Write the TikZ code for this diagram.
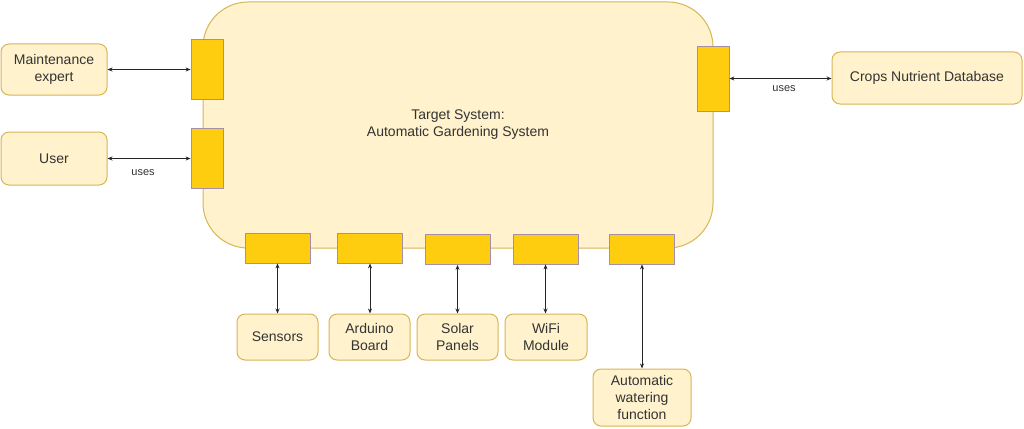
\documentclass[tikz,border=0pt]{standalone}
\usepackage{fontspec}
\setmainfont{Liberation Sans}
\usetikzlibrary{arrows.meta}
\definecolor{boxfill}{HTML}{FFF2CC}
\definecolor{boxline}{HTML}{D6B656}
\definecolor{portfill}{HTML}{FFCD0F}
\definecolor{portline}{HTML}{A88FA8}
\definecolor{txt}{HTML}{333333}
\begin{document}
\begin{tikzpicture}[x=1pt,y=-1pt,
  box/.style={draw=boxline,fill=boxfill,line width=1pt,rounded corners=8pt,align=center,text=txt,
    font=\fontsize{14}{17}\selectfont,inner sep=0pt},
  port/.style={draw=portline,fill=portfill,line width=0.8pt,inner sep=0pt},
  conn/.style={draw=black!85,line width=0.9pt,{Stealth[length=5pt,width=4pt]}-{Stealth[length=5pt,width=4pt]}},
  lbl/.style={font=\fontsize{11}{13}\selectfont,text=txt,inner sep=0pt}]
\useasboundingbox (0,0) rectangle (1024,428);
\node[box,rounded corners=45pt,minimum width=510pt,minimum height=246pt] (main) at (458,125) {Target System:\\Automatic Gardening System};
% ports
\node[port,minimum width=32pt,minimum height=60pt] (p1) at (207,69) {};
\node[port,minimum width=32pt,minimum height=60pt] (p2) at (207,158) {};
\node[port,minimum width=32pt,minimum height=65pt] (pr) at (713,78.5) {};
\node[port,minimum width=65pt,minimum height=30pt] (b1) at (277.5,248) {};
\node[port,minimum width=65pt,minimum height=30pt] (b2) at (370,248) {};
\node[port,minimum width=65pt,minimum height=30pt] (b3) at (457.5,249.5) {};
\node[port,minimum width=65pt,minimum height=30pt] (b4) at (545.5,249) {};
\node[port,minimum width=65pt,minimum height=30pt] (b5) at (642,249) {};
% external boxes
\node[box,minimum width=106pt,minimum height=51pt] (me) at (54,69.5) {Maintenance\\expert};
\node[box,minimum width=106pt,minimum height=53pt] (user) at (54,158.5) {User};
\node[box,minimum width=190pt,minimum height=52pt] (crops) at (927,78) {Crops Nutrient Database};
\node[box,minimum width=81pt,minimum height=46pt] (sens) at (277.5,337) {Sensors};
\node[box,minimum width=81pt,minimum height=46pt] (ard) at (369.5,337) {Arduino\\Board};
\node[box,minimum width=81pt,minimum height=46pt] (sol) at (457.5,337) {Solar\\Panels};
\node[box,minimum width=82pt,minimum height=46pt] (wifi) at (546,337) {WiFi\\Module};
\node[box,minimum width=98pt,minimum height=57pt] (auto) at (642,397.5) {Automatic\\watering\\function};
% connectors
\draw[conn] (me.east) -- (me.east -| p1.west);
\draw[conn] (user.east) -- (user.east -| p2.west);
\draw[conn] (pr.east) -- (pr.east -| crops.west);
\draw[conn] (b1.south) -- (b1.south |- sens.north);
\draw[conn] (b2.south) -- (b2.south |- ard.north);
\draw[conn] (b3.south) -- (b3.south |- sol.north);
\draw[conn] (b4.south) -- (b4.south |- wifi.north);
\draw[conn] (b5.south) -- (b5.south |- auto.north);
\node[lbl] (u1) at (143,173) {uses};
\node[lbl] (u2) at (784,89) {uses};
\end{tikzpicture}
\end{document}
